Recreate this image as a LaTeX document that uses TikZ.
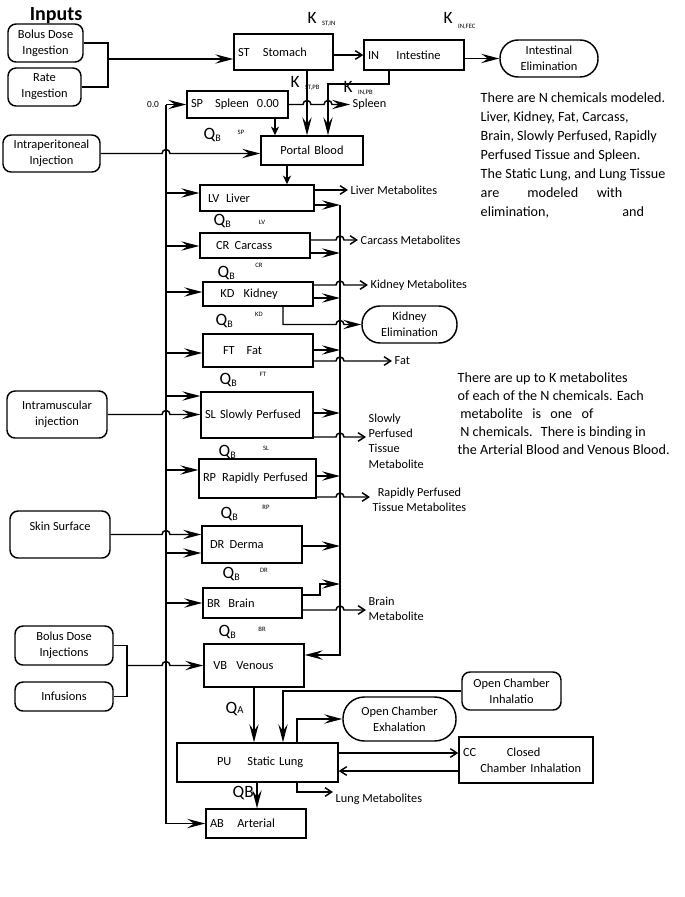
\documentclass[tikz,border=0pt]{standalone}
\usepackage{fontspec}
\setmainfont{Carlito}
\usetikzlibrary{arrows.meta}

\tikzset{every picture/.style={line width=1.1pt}}
\tikzset{
	comp/.style={draw, rectangle, inner xsep=3pt, inner ysep=0pt, align=left, font=\fontsize{9.3}{12}\selectfont},
	inbox/.style={draw, rounded corners=6pt, inner sep=0pt, align=center, font=\fontsize{9.3}{12}\selectfont},
	sink/.style={draw, rounded corners=13.5pt, inner sep=0pt, align=center, font=\fontsize{9.3}{12}\selectfont},
	met/.style={inner sep=1.5pt, anchor=west, align=left, font=\fontsize{9.2}{11.6}\selectfont},
	para/.style={inner sep=0pt, anchor=north west, align=left, font=\fontsize{10.6}{14.2}\selectfont},
	klab/.style={inner sep=0pt, anchor=base west, font=\fontsize{13}{13}\selectfont},
	tag/.style={inner sep=0pt, font=\fontsize{5}{5}\selectfont},
	arr/.style={-{Stealth[length=13.5pt,width=7pt,inset=5pt]}},
	sarr/.style={-{Stealth[length=6.5pt,width=6pt,inset=2pt]}},
	oarr/.style={-{Straight Barb[length=5pt,width=6.5pt]}}}
\newcommand{\qb}{Q\raisebox{-1.5pt}{\fontsize{7.5}{7.5}\selectfont B}}
\newcommand{\ksub}[2]{K\hspace{4pt}\raisebox{#2}{\fontsize{5}{5}\selectfont #1}}

\begin{document}
\begin{tikzpicture}[x=0.75pt,y=0.75pt,yscale=-1,xscale=1]
	%set diagram left start at 0, and has height of 897
	\useasboundingbox (0,0) rectangle (685,897);

	% Text Node
	\node[font=\bfseries\fontsize{15}{15}\selectfont, inner sep=0pt, anchor=base] (inputs) at (56,20) {Inputs};

	%Rounded Rect: inputs
	\node[inbox, minimum width=56.25pt, minimum height=28.5pt] (bolusing) at (45.5,43) {Bolus Dose\\Ingestion};
	\node[inbox, minimum width=54.75pt, minimum height=28.5pt] (rateing) at (44.5,87) {Rate\\Ingestion};
	\node[inbox, minimum width=72.75pt, minimum height=27.75pt] (intraperit) at (51.5,153.5) {Intraperitoneal\\Injection};
	\node[inbox, minimum width=75pt, minimum height=35.25pt] (intramusc) at (57,414.5) {Intramuscular\\injection};
	\node[inbox, minimum width=75pt, minimum height=35.25pt] (skin) at (60,534.5) {\raisebox{3pt}[0pt][0pt]{Skin Surface}};
	\node[inbox, minimum width=73.5pt, minimum height=29.25pt] (bolusinj) at (64,645.5) {Bolus Dose\\Injections};
	\node[inbox, minimum width=73.5pt, minimum height=21.75pt] (infus) at (64,696.5) {Infusions};
	\node[inbox, minimum width=74.25pt, minimum height=28.5pt] (ocinh) at (511.5,691) {Open Chamber\\Inhalatio};

	%Rounded Rect: eliminations
	\node[sink, minimum width=73.5pt, minimum height=27.75pt] (intelim) at (549,58.5) {Intestinal\\Elimination};
	\node[sink, minimum width=71.25pt, minimum height=27.75pt] (kidelim) at (409.5,324.5) {Kidney\\Elimination};
	\node[sink, rounded corners=16pt, minimum width=84.75pt, minimum height=33pt] (ocexh) at (399.5,719) {Open Chamber\\Exhalation};

	%Shape: Rectangle compartments
	\node[comp, text width=68.25pt, minimum height=27pt] (stomach) at (283.5,52) {ST\hspace{10pt}Stomach};
	\node[comp, text width=69pt, minimum height=22.5pt] (intestine) at (414,55) {IN\hspace{13pt}Intestine};
	\node[comp, text width=69.75pt, minimum height=20.25pt] (spleen) at (237.5,104.5) {SP\hspace{9pt}Spleen\hspace{6pt}0.00};
	\node[comp, align=center, text width=70.5pt, minimum height=21.75pt] (portal) at (312,150.5) {Portal Blood};
	\node[comp, text width=79.5pt, minimum height=19.5pt] (liver) at (257,198) {\hspace*{3pt}LV\hspace{5pt}Liver};
	\node[comp, text width=76.5pt, minimum height=18.75pt] (carcass) at (255,245.5) {\hspace*{9pt}CR\hspace{4pt}Carcass};
	\node[comp, text width=76.5pt, minimum height=18pt] (kidney) at (258,294) {\hspace*{10pt}KD\hspace{7pt}Kidney};
	\node[comp, text width=76.5pt, minimum height=24.75pt] (fat) at (258,350.5) {\hspace*{12pt}FT\hspace{9pt}Fat};
	\node[comp, text width=78pt, minimum height=34.5pt] (slowly) at (257,415) {SL Slowly Perfused};
	\node[comp, text width=81.75pt, minimum height=29.25pt] (rapidly) at (257.5,478.5) {RP\hspace{4.5pt}Rapidly Perfused};
	\node[comp, text width=69pt, minimum height=27.75pt] (derma) at (252,544.5) {\hspace*{3pt}DR\hspace{4pt}Derma};
	\node[comp, text width=68.25pt, minimum height=22.5pt] (brain) at (252.5,603) {BR\hspace{6pt}Brain};
	\node[comp, text width=69pt, minimum height=32.25pt] (venous) at (254,665.5) {\hspace*{4pt}VB\hspace{7pt}Venous};
	\node[comp, text width=114.75pt, minimum height=29.25pt] (lung) at (257.5,762.5) {\hspace*{27pt}PU\hspace{12pt}Static Lung};
	\node[comp, text width=69pt, minimum height=21.75pt] (arterial) at (256,823.5) {AB\hspace{10pt}Arterial};
	\node[comp, text width=94.5pt, minimum height=34.5pt] (closed) at (526,760) {CC\hspace{23pt}Closed\\\hspace*{13pt}Chamber Inhalation};

	% Text Node: outputs
	\node[met] (spltxt) at (350,104.5) {Spleen};
	\node[met] (livmet) at (348,190) {Liver Metabolites};
	\node[met] (carmet) at (358,240) {Carcass Metabolites};
	\node[met] (kidmet) at (368,285) {Kidney Metabolites};
	\node[met] (fattxt) at (392,361) {Fat};
	\node[met] (slmet) at (366,441) {Slowly\\Perfused\\Tissue\\Metabolite};
	\node[met, align=center] (rpmet) at (370,500) {Rapidly Perfused\\Tissue Metabolites};
	\node[met] (brmet) at (366,609) {Brain\\Metabolite};
	\node[met] (lungmet) at (333,799) {Lung Metabolites};
	\node[inner sep=0pt, font=\fontsize{7}{7}\selectfont] (zero) at (153,105) {0.0};

	% Text Node: rate constants
	\node[klab] (kstin) at (307,23) {\ksub{ST,IN}{-2pt}};
	\node[klab] (kinfec) at (443,23) {\ksub{IN,FEC}{-4pt}};
	\node[klab] (kstpb) at (290,87) {\ksub{ST,PB}{-1.5pt}};
	\node[klab] (kinpb) at (343,92) {\ksub{IN,PB}{-1.5pt}};

	% Text Node: blood flows
	\node[klab] (qsp) at (203,139) {\qb};
	\node[tag] (qsptag) at (241,132) {SP};
	\node[klab] (qlv) at (213,225) {\qb};
	\node[tag] (qlvtag) at (262,222) {LV};
	\node[klab] (qcr) at (217,277) {\qb};
	\node[tag] (qcrtag) at (259,265) {CR};
	\node[klab] (qkd) at (215,325) {\qb};
	\node[tag] (qkdtag) at (259,314) {KD};
	\node[klab] (qft) at (219,384) {\qb};
	\node[tag] (qfttag) at (263,374) {FT};
	\node[klab] (qsl) at (218,456) {\qb};
	\node[tag] (qsltag) at (266,448) {SL};
	\node[klab] (qrp) at (220,518) {\qb};
	\node[tag] (qrptag) at (266,507) {RP};
	\node[klab] (qdr) at (222,578) {\qb};
	\node[tag] (qdrtag) at (264,570) {DR};
	\node[klab] (qbr) at (218,636) {\qb};
	\node[tag] (qbrtag) at (262,629) {BR};
	\node[klab] (qa) at (225,713) {Q{\fontsize{8}{8}\selectfont A}};
	\node[klab] (qbart) at (232,797) {QB};

	% Text Node: notes
	\node[para] (note1) at (480,92) {There are N chemicals modeled.\\Liver, Kidney, Fat, Carcass,\\Brain, Slowly Perfused, Rapidly\\Perfused Tissue and Spleen.\\The Static Lung, and Lung Tissue\\are\hspace{21pt}modeled\hspace{14pt}with\\elimination,\hspace{55pt}and};
	\node[para, font=\fontsize{10.6}{13.5}\selectfont] (note2) at (457,372) {There are up to K metabolites\\of each of the N chemicals. Each\\\hspace*{2pt}metabolite\hspace{7pt}is\hspace{7pt}one\hspace{7pt}of\\\hspace*{2pt}N chemicals.\hspace{3pt} There is binding in\\the Arterial Blood and Venous Blood.};

	% junctions
	\coordinate (ingjoin) at (108,59);
	\coordinate (injjoin) at (127,665.5);
	\coordinate (arttop) at (166,104.5);
	\coordinate (vtop) at (340,205);
	\coordinate (vbot) at (340,655);
	\coordinate (stpb) at (307,70);
	\coordinate (inpb) at (328,84);

	%Straight Lines: gut
	\draw (bolusing.east) -| (ingjoin) |- (rateing.east);
	\draw[arr] (ingjoin) -- (ingjoin -| stomach.west);
	\draw[oarr] (stomach.east |- intestine.west) -- (intestine.west);
	\draw[arr] (intestine.east |- intelim.west) -- (intelim.west);
	\draw[arr] (stpb) -- (stpb |- portal.north);
	\draw[arr] (intestine.south -| 389,0) |- (inpb) -- (inpb |- portal.north);
	\draw[arr] (spleen.east) -- (303,104.5) arc[start angle=180,end angle=360,radius=4] -- (324,104.5) arc[start angle=180,end angle=360,radius=4] -- (spltxt.west);
	\draw[sarr] (spleen.south -| 275,0) -- (portal.north -| 275,0);
	\draw[arr] (intraperit.east) -- (162,153.5) arc[start angle=180,end angle=360,radius=4] -- (intraperit.east -| portal.west);
	\draw[sarr] (portal.south -| 287,0) -- (liver.north -| 287,0);

	%Straight Lines: arterial side
	\draw[arr] (arttop) -- (arttop -| spleen.west);
	\draw[arr] (arttop) |- (arterial.west);
	\draw[arr] (166,193) -- (liver.west |- 0,193);
	\draw[arr] (166,246) -- (carcass.west |- 0,246);
	\draw[arr] (166,292) -- (kidney.west |- 0,292);
	\draw[arr] (166,353) -- (fat.west |- 0,353);
	\draw[arr] (166,396) -- (slowly.west |- 0,396);
	\draw[arr] (166,470) -- (rapidly.west |- 0,470);
	\draw[arr] (166,553) -- (derma.west |- 0,553);
	\draw[arr] (166,603) -- (brain.west);
	\draw[arr] (intramusc.east) -- (162,414.5) arc[start angle=180,end angle=360,radius=4] -- (intramusc.east -| slowly.west);
	\draw[arr] (skin.east) -- (162,534.5) arc[start angle=180,end angle=360,radius=4] -- (skin.east -| derma.west);
	\draw (bolusinj.east) -| (injjoin) |- (infus.east);
	\draw[arr] (injjoin) -- (162,665.5) arc[start angle=180,end angle=360,radius=4] -- (venous.west);

	%Straight Lines: venous side
	\draw[arr] (vtop) -- (vbot) -- (vbot -| venous.east);
	\draw[arr] (liver.east |- 0,205) -- (vtop);
	\draw[arr] (carcass.east |- 0,253) -- (vtop |- 0,253);
	\draw[arr] (kidney.east |- 0,298) -- (vtop |- 0,298);
	\draw[arr] (fat.east |- 0,350) -- (vtop |- 0,350);
	\draw[arr] (slowly.east |- 0,413) -- (vtop |- 0,413);
	\draw[arr] (rapidly.east |- 0,476) -- (vtop |- 0,476);
	\draw[arr] (derma.east |- 0,546) -- (vtop |- 0,546);
	\draw[arr] (brain.east |- 0,595) -- (320,595) |- (vtop |- 0,584);

	%Straight Lines: metabolites
	\draw[oarr] (liver.east |- 0,190) -- (livmet.west);
	\draw[oarr] (carcass.east |- 0,240) -- (336,240) arc[start angle=180,end angle=360,radius=4] -- (carmet.west);
	\draw[oarr] (kidney.east |- 0,285) -- (336,285) arc[start angle=180,end angle=360,radius=4] -- (kidmet.west);
	\draw[arr] (kidney.south -| 283,0) |- (336,324.5) arc[start angle=180,end angle=360,radius=4] -- (kidelim.west);
	\draw[oarr] (fat.east |- 0,361) -- (336,361) arc[start angle=180,end angle=360,radius=4] -- (fattxt.west);
	\draw[oarr] (slowly.east |- 0,437) -- (336,437) arc[start angle=180,end angle=360,radius=4] -- (slmet.west |- 0,437);
	\draw[oarr] (rapidly.east |- 0,497) -- (336,497) arc[start angle=180,end angle=360,radius=4] -- (rpmet.west |- 0,497);
	\draw[oarr] (brain.east |- 0,610) -- (336,610) arc[start angle=180,end angle=360,radius=4] -- (brmet.west |- 0,610);

	%Straight Lines: lung
	\draw[arr] (venous.south -| 254,0) -- (lung.north -| 254,0);
	\draw[arr] (ocinh.west) -| (lung.north -| 283,0);
	\draw[arr] (lung.north -| 297,0) |- (ocexh.west);
	\draw[oarr] (lung.east |- 0,753) -- (closed.west |- 0,753);
	\draw[oarr] (closed.west |- 0,771) -- (lung.east |- 0,771);
	\draw[oarr] (lung.south -| 297,0) |- (lungmet.west |- 0,792);
	\draw[arr] (lung.south -| 257,0) -- (arterial.north -| 257,0);

\end{tikzpicture}
\end{document}
